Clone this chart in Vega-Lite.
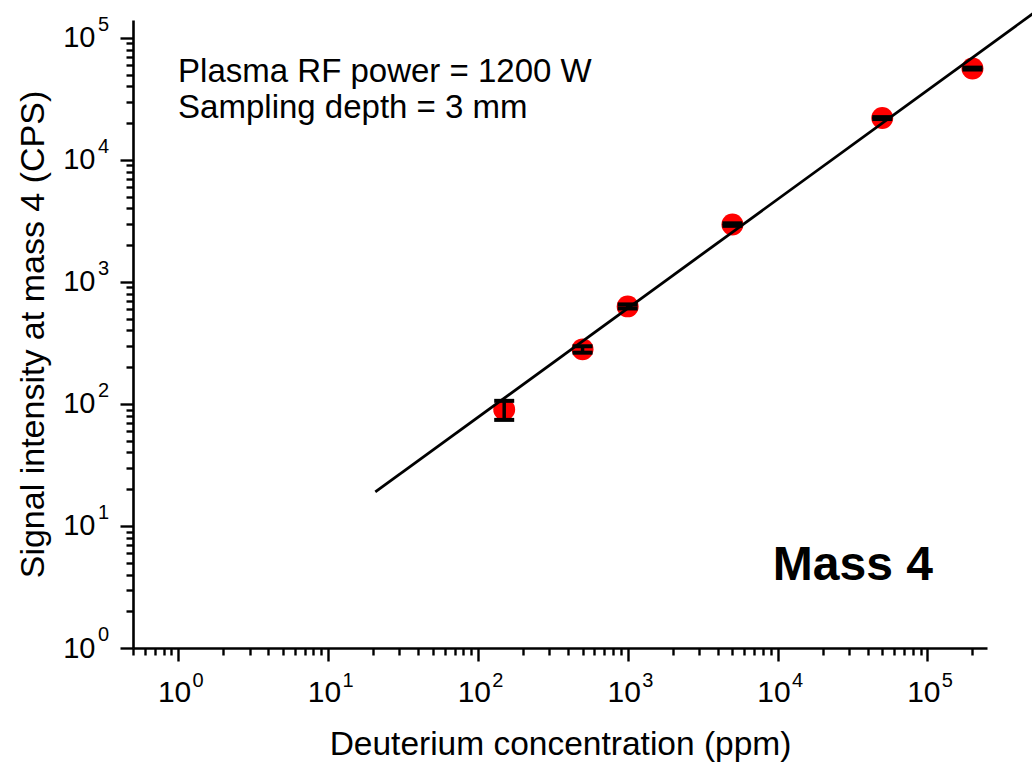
{
  "$schema": "https://vega.github.io/schema/vega-lite/v6.json",
  "autosize": "none",
  "width": 854,
  "height": 628,
  "padding": {"left": 133, "top": 20, "right": 45, "bottom": 125},
  "background": "white",
  "config": {
    "view": {"stroke": null},
    "font": "Liberation Sans",
    "axis": {
      "grid": false,
      "domainColor": "black",
      "domainWidth": 2.6,
      "tickColor": "black",
      "tickWidth": 2.4,
      "labelColor": "black",
      "titleColor": "black",
      "labelFont": "Liberation Sans",
      "titleFont": "Liberation Sans",
      "labelFontSize": 30,
      "titleFontSize": 33.5,
      "titleFontWeight": "normal",
      "labelOverlap": false,
      "labelFlush": false,
      "labelBound": false
    }
  },
  "datasets": {
    "pts": [
      {"c": 150, "s": 90, "lo": 74, "hi": 106},
      {"c": 500, "s": 280, "lo": 263, "hi": 297},
      {"c": 1000, "s": 630, "lo": 606, "hi": 654},
      {"c": 5000, "s": 2950, "lo": 2880, "hi": 3020},
      {"c": 50000, "s": 22000, "lo": 21600, "hi": 22400},
      {"c": 200000, "s": 56000, "lo": 55000, "hi": 57000}
    ],
    "fit": [
      {"c": 20.7, "s": 19},
      {"c": 513000, "s": 160000}
    ],
    "notes": [
      {"t": "Plasma RF power = 1200 W", "c": 1.0, "s": 43600},
      {"t": "Sampling depth = 3 mm", "c": 1.0, "s": 22000}
    ],
    "big": [
      {"t": "Mass 4", "c": 9300, "s": 3.61}
    ],
    "exps": [
      {"v": 1, "e": "0"},
      {"v": 10, "e": "1"},
      {"v": 100, "e": "2"},
      {"v": 1000, "e": "3"},
      {"v": 10000, "e": "4"},
      {"v": 100000, "e": "5"}
    ]
  },
  "layer": [
    {
      "data": {"name": "pts"},
      "mark": {"type": "point", "shape": "circle", "filled": true, "color": "#ff0000", "opacity": 1, "size": 480, "strokeWidth": 0},
      "encoding": {
        "x": {
          "field": "c", "type": "quantitative",
          "scale": {"type": "log", "domain": [0.5, 250000], "nice": false},
          "axis": {
            "title": "Deuterium concentration (ppm)",
            "values": [0.5,0.6,0.7,0.8,0.9,1,2,3,4,5,6,7,8,9,10,20,30,40,50,60,70,80,90,100,200,300,400,500,600,700,800,900,1000,2000,3000,4000,5000,6000,7000,8000,9000,10000,20000,30000,40000,50000,60000,70000,80000,90000,100000,200000],
            "labelExpr": "abs(log(datum.value)/LN10 - round(log(datum.value)/LN10)) < 1e-6 ? '10' : ''",
            "tickSize": {"condition": {"test": "abs(log(datum.value)/LN10 - round(log(datum.value)/LN10)) < 1e-6", "value": 13}, "value": 7},
            "labelPadding": 16,
            "labelOffset": -4,
            "titlePadding": 21
          }
        },
        "y": {
          "field": "s", "type": "quantitative",
          "scale": {"type": "log", "domain": [1, 140000], "nice": false},
          "axis": {
            "title": "Signal intensity at mass 4 (CPS)",
            "titleFontSize": 34,
            "labelFontSize": 29,
            "values": [1,2,3,4,5,6,7,8,9,10,20,30,40,50,60,70,80,90,100,200,300,400,500,600,700,800,900,1000,2000,3000,4000,5000,6000,7000,8000,9000,10000,20000,30000,40000,50000,60000,70000,80000,90000,100000],
            "labelExpr": "abs(log(datum.value)/LN10 - round(log(datum.value)/LN10)) < 1e-6 ? '10' : ''",
            "tickSize": {"condition": {"test": "abs(log(datum.value)/LN10 - round(log(datum.value)/LN10)) < 1e-6", "value": 13}, "value": 7},
            "labelPadding": 25,
            "titlePadding": 12
          }
        }
      }
    },
    {
      "data": {"name": "fit"},
      "mark": {"type": "line", "color": "black", "strokeWidth": 2.8},
      "encoding": {
        "x": {"field": "c", "type": "quantitative"},
        "y": {"field": "s", "type": "quantitative"}
      }
    },
    {
      "data": {"name": "pts"},
      "mark": {"type": "rule", "color": "black", "strokeWidth": 3.5},
      "encoding": {
        "x": {"field": "c", "type": "quantitative"},
        "y": {"field": "lo", "type": "quantitative"},
        "y2": {"field": "hi"}
      }
    },
    {
      "data": {"name": "pts"},
      "mark": {"type": "tick", "orient": "horizontal", "color": "black", "size": 20, "thickness": 4, "opacity": 1},
      "encoding": {
        "x": {"field": "c", "type": "quantitative"},
        "y": {"field": "lo", "type": "quantitative"}
      }
    },
    {
      "data": {"name": "pts"},
      "mark": {"type": "tick", "orient": "horizontal", "color": "black", "size": 20, "thickness": 4, "opacity": 1},
      "encoding": {
        "x": {"field": "c", "type": "quantitative"},
        "y": {"field": "hi", "type": "quantitative"}
      }
    },
    {
      "data": {"name": "exps"},
      "mark": {"type": "text", "align": "left", "baseline": "alphabetic", "font": "Liberation Sans", "fontSize": 20, "color": "black", "dx": 14.5, "dy": 38.7},
      "encoding": {
        "x": {"field": "v", "type": "quantitative"},
        "y": {"datum": 1},
        "text": {"field": "e"}
      }
    },
    {
      "data": {"name": "exps"},
      "mark": {"type": "text", "align": "left", "baseline": "alphabetic", "font": "Liberation Sans", "fontSize": 20, "color": "black", "dx": -35, "dy": -6.7},
      "encoding": {
        "x": {"datum": 0.5},
        "y": {"field": "v", "type": "quantitative"},
        "text": {"field": "e"}
      }
    },
    {
      "data": {"name": "notes"},
      "mark": {"type": "text", "align": "left", "baseline": "alphabetic", "font": "Liberation Sans", "fontSize": 33, "color": "black"},
      "encoding": {
        "x": {"field": "c", "type": "quantitative"},
        "y": {"field": "s", "type": "quantitative"},
        "text": {"field": "t"}
      }
    },
    {
      "data": {"name": "big"},
      "mark": {"type": "text", "align": "left", "baseline": "alphabetic", "font": "Liberation Sans", "fontSize": 48, "fontWeight": "bold", "color": "black"},
      "encoding": {
        "x": {"field": "c", "type": "quantitative"},
        "y": {"field": "s", "type": "quantitative"},
        "text": {"field": "t"}
      }
    }
  ]
}
